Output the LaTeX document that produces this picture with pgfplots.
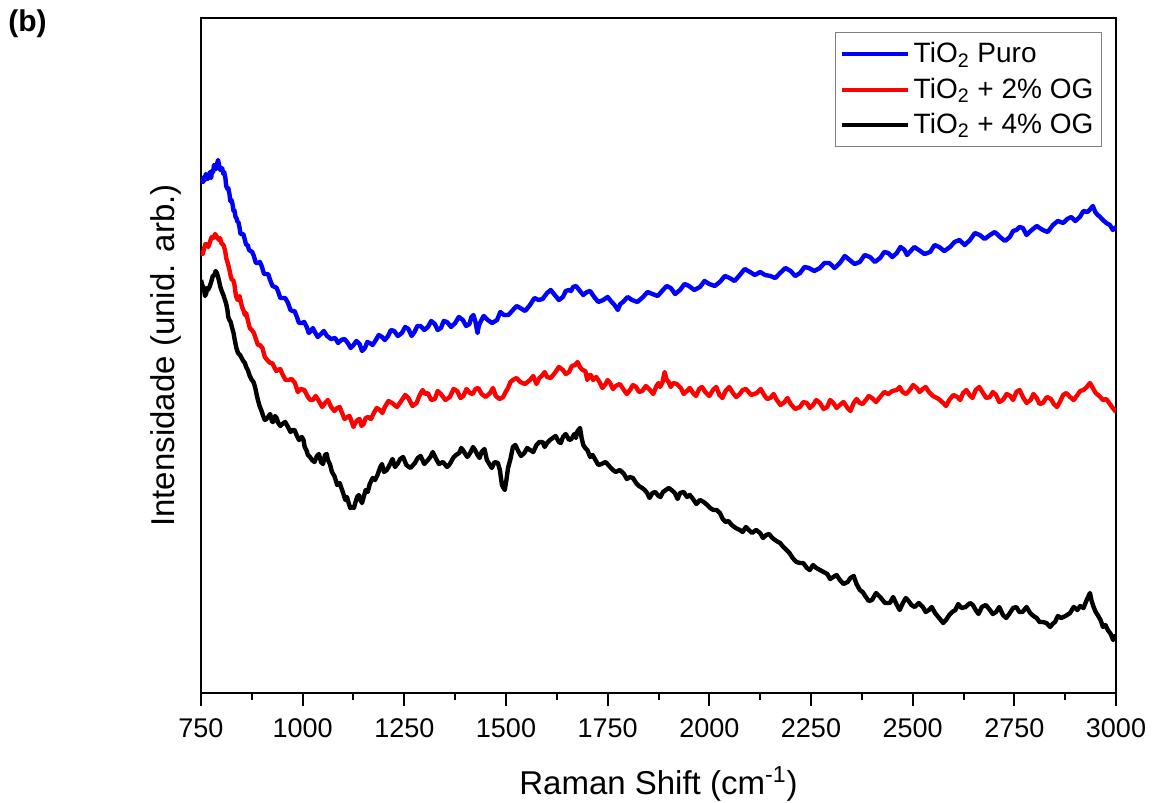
\documentclass[border=0pt]{standalone}
\usepackage{fontspec}
\setmainfont{Liberation Sans}
\usepackage{pgfplots}
\usepackage{pgfplotstable}
\pgfplotsset{compat=1.18}

\pgfplotstableread{
w I
750 523
752 519
755 518
757 523
760 520
762 526
765 524
767 521
770 525
772 528
775 522
777 529
780 528
782 535
785 533
787 531
790 537
792 540
795 534
797 530
800 532
802 532
805 526
807 528
810 522
812 514
815 511
817 512
820 506
822 499
825 500
827 497
830 489
832 490
835 483
837 482
840 478
842 478
845 472
847 466
850 466
854 466
858 460
861 455
865 455
868 450
872 449
876 448
880 444
885 437
890 437
895 438
900 433
905 426
910 426
915 426
920 420
926 414
932 413
936 412
940 408
945 402
950 402
957 402
964 397
970 390
975 389
980 389
985 384
991 377
998 377
1004 378
1010 373
1015 367
1020 369
1025 372
1030 368
1037 363
1045 366
1052 369
1060 364
1070 361
1080 362
1087 357
1095 360
1103 361
1111 357
1118 352
1125 355
1132 359
1140 356
1146 349
1153 352
1159 358
1165 357
1172 355
1180 360
1187 365
1195 363
1202 360
1210 364
1217 370
1225 369
1234 364
1244 367
1252 373
1260 371
1268 364
1275 368
1282 374
1290 374
1299 370
1308 373
1316 379
1325 376
1332 370
1340 372
1347 379
1355 378
1365 373
1375 377
1384 383
1394 380
1402 374
1410 376
1415 383
1420 385
1425 378
1430 367
1433 374
1436 377
1445 384
1455 380
1466 377
1478 380
1486 388
1495 385
1506 385
1517 390
1526 394
1535 392
1547 389
1559 395
1570 402
1580 400
1590 401
1601 407
1610 410
1620 405
1630 400
1640 403
1647 409
1655 410
1660 409
1665 413
1672 414
1680 410
1690 405
1699 408
1707 409
1715 404
1727 398
1739 400
1750 403
1760 398
1767 395
1775 390
1781 396
1788 398
1799 403
1810 400
1823 398
1837 403
1848 408
1860 406
1873 404
1886 410
1895 414
1905 412
1916 406
1928 410
1939 416
1950 414
1963 410
1977 413
1988 419
2000 416
2013 414
2026 418
2038 424
2050 422
2062 419
2075 425
2087 431
2100 428
2112 425
2125 428
2137 425
2150 424
2162 422
2174 427
2187 432
2200 429
2211 424
2223 427
2234 433
2245 432
2258 429
2272 432
2283 437
2295 437
2308 432
2321 437
2333 444
2345 440
2357 436
2370 438
2382 445
2395 443
2407 438
2420 442
2430 448
2440 447
2450 443
2461 447
2470 453
2480 450
2486 445
2493 448
2504 453
2515 450
2529 446
2543 448
2554 455
2565 453
2578 449
2592 453
2603 458
2615 460
2628 455
2641 460
2653 467
2665 465
2677 461
2690 465
2702 468
2715 463
2727 459
2739 463
2747 469
2755 470
2763 473
2771 472
2780 465
2790 469
2805 474
2820 470
2832 468
2845 475
2857 479
2870 477
2880 481
2890 483
2900 479
2911 483
2920 489
2930 488
2937 491
2943 494
2949 488
2955 485
2961 483
2968 480
2976 477
2985 475
2992 470
3000 473
}\puro

\pgfplotstableread{
w I
750 447
754 446
758 452
761 456
765 455
768 453
772 458
776 463
780 462
785 466
789 463
792 461
795 460
797 462
800 457
805 455
809 450
812 442
815 438
817 435
820 430
823 424
826 420
829 420
832 416
836 404
840 400
842 400
845 404
848 398
851 393
855 389
858 385
861 387
865 380
870 372
875 370
880 367
885 361
890 355
895 355
901 352
907 343
913 340
920 337
925 337
930 333
935 329
939 330
945 331
950 326
958 320
965 320
973 321
981 317
988 308
995 311
1004 310
1013 303
1019 300
1025 300
1032 304
1040 299
1048 293
1055 297
1062 300
1070 293
1078 289
1085 292
1091 293
1097 287
1103 281
1110 283
1115 284
1120 279
1125 273
1129 277
1135 280
1140 281
1145 274
1150 276
1155 282
1161 283
1168 281
1175 287
1182 292
1190 290
1196 287
1202 293
1211 299
1220 297
1232 293
1244 300
1252 305
1260 302
1270 294
1280 297
1288 305
1295 310
1301 306
1308 307
1316 300
1325 301
1332 309
1340 306
1351 300
1362 303
1371 311
1380 309
1388 302
1395 304
1403 311
1411 307
1418 306
1425 311
1432 312
1440 306
1450 303
1461 307
1468 312
1475 304
1484 301
1493 303
1499 308
1505 312
1511 318
1517 320
1526 322
1535 318
1547 316
1559 320
1567 324
1575 316
1582 322
1590 325
1595 328
1601 323
1610 322
1620 327
1630 333
1640 330
1647 326
1655 328
1662 334
1670 335
1676 338
1682 333
1688 330
1695 329
1700 320
1705 325
1709 325
1714 320
1722 323
1730 318
1737 312
1745 316
1750 320
1756 317
1763 311
1770 314
1780 316
1790 310
1797 306
1805 310
1812 315
1820 313
1827 308
1835 309
1844 314
1854 310
1862 306
1870 314
1875 317
1879 313
1885 318
1890 328
1895 320
1900 318
1905 313
1911 317
1920 316
1930 312
1937 306
1945 309
1952 312
1960 307
1967 304
1975 311
1982 313
1990 308
2000 304
2009 310
2017 313
2025 305
2032 302
2040 309
2049 313
2058 307
2066 303
2075 306
2082 310
2090 311
2103 305
2117 307
2126 311
2135 305
2142 301
2150 302
2158 306
2166 300
2175 295
2185 298
2192 302
2200 296
2211 291
2223 293
2231 298
2240 297
2247 292
2255 295
2263 300
2272 297
2281 291
2290 293
2297 300
2305 297
2313 292
2321 295
2330 298
2340 292
2347 289
2355 297
2362 301
2370 297
2377 296
2385 300
2392 304
2400 302
2410 298
2420 303
2430 308
2440 306
2450 309
2461 310
2468 313
2475 308
2484 306
2493 310
2501 315
2510 312
2517 308
2525 311
2532 313
2540 308
2550 304
2560 302
2567 300
2575 297
2582 294
2590 300
2600 305
2610 303
2617 300
2624 307
2632 310
2640 305
2647 302
2655 310
2664 313
2673 307
2681 302
2690 303
2697 308
2705 305
2713 298
2722 300
2731 306
2740 304
2747 300
2755 308
2763 310
2771 303
2780 297
2790 300
2797 306
2805 302
2812 296
2820 297
2830 303
2840 301
2847 296
2855 293
2862 298
2870 305
2878 307
2887 303
2896 300
2905 305
2912 309
2920 310
2928 313
2936 317
2943 312
2950 307
2959 304
2968 300
2976 301
2985 296
2992 292
3000 288
}\dois

\pgfplotstableread{
w I
750 420
753 415
757 412
760 404
763 407
765 412
767 410
771 413
775 418
779 424
783 425
786 429
789 427
792 423
795 418
797 414
800 410
805 405
809 400
812 396
815 390
817 383
820 380
823 378
826 373
830 367
833 360
837 352
841 347
846 345
850 342
854 339
858 337
861 333
865 330
870 324
875 320
879 318
883 313
887 305
890 300
894 294
898 290
903 284
907 280
911 281
915 283
920 286
925 278
928 278
932 284
936 282
940 277
945 274
950 276
957 278
964 273
970 268
975 270
980 270
985 265
991 260
998 263
1002 260
1005 253
1009 250
1013 245
1018 243
1023 240
1029 238
1035 244
1040 246
1045 238
1050 236
1055 245
1059 246
1062 240
1067 236
1072 228
1078 224
1085 215
1091 217
1097 210
1101 205
1105 200
1109 203
1113 197
1117 192
1121 193
1126 192
1130 198
1134 203
1138 205
1142 200
1146 197
1150 203
1155 210
1160 208
1165 216
1172 222
1178 220
1184 225
1190 232
1195 236
1200 228
1207 230
1215 236
1221 241
1227 233
1233 236
1240 241
1247 243
1255 235
1265 232
1276 237
1283 242
1290 244
1299 236
1308 240
1314 243
1320 248
1327 242
1335 236
1345 238
1355 233
1362 236
1370 242
1377 245
1385 247
1390 252
1394 250
1400 246
1405 243
1412 247
1419 253
1424 250
1430 245
1435 242
1440 248
1447 251
1453 240
1459 236
1465 232
1472 238
1480 237
1485 230
1490 215
1494 212
1497 210
1501 220
1505 232
1511 241
1517 253
1523 255
1530 249
1537 244
1545 247
1552 252
1559 250
1567 248
1575 255
1582 258
1590 258
1595 253
1601 257
1608 260
1615 262
1622 264
1630 258
1635 257
1640 263
1647 266
1655 260
1661 261
1668 266
1672 262
1675 268
1678 270
1682 272
1686 262
1690 255
1695 252
1700 250
1703 247
1707 243
1713 245
1720 240
1727 235
1735 236
1745 238
1756 233
1763 230
1770 228
1780 230
1790 226
1797 221
1805 223
1812 222
1820 217
1827 214
1835 212
1841 210
1847 207
1853 202
1860 207
1867 208
1875 204
1880 203
1886 208
1893 210
1900 212
1907 210
1915 207
1922 201
1928 207
1937 208
1945 203
1952 205
1960 201
1968 196
1977 200
1986 198
1995 195
2002 192
2010 190
2018 190
2026 187
2033 181
2040 178
2047 179
2055 175
2065 172
2075 170
2082 168
2090 173
2097 170
2105 167
2115 170
2125 167
2132 162
2140 165
2147 166
2155 162
2165 159
2174 157
2182 153
2190 150
2197 147
2205 142
2214 138
2223 137
2231 137
2240 132
2247 130
2255 135
2263 132
2272 130
2281 128
2290 126
2297 121
2305 123
2313 125
2321 120
2330 116
2340 118
2347 122
2355 124
2362 116
2370 110
2377 108
2385 103
2392 99
2400 100
2410 107
2420 103
2432 97
2444 97
2452 103
2460 96
2468 90
2476 97
2483 102
2490 99
2497 95
2505 93
2515 97
2525 93
2532 88
2540 90
2547 93
2555 87
2565 82
2575 77
2582 80
2590 85
2597 88
2605 90
2612 96
2620 92
2630 93
2641 97
2648 95
2655 90
2662 86
2670 93
2680 95
2690 90
2697 86
2705 88
2713 93
2722 85
2730 82
2739 87
2747 92
2755 93
2762 88
2770 88
2780 93
2789 87
2797 84
2805 82
2812 78
2820 78
2829 77
2838 73
2844 76
2850 78
2857 84
2865 82
2876 84
2887 87
2896 93
2905 90
2912 94
2920 92
2928 100
2936 107
2940 99
2945 93
2950 88
2955 85
2962 80
2968 73
2974 75
2980 70
2987 66
2993 60
2997 64
3000 62
}\quatro

\begin{document}
\begin{tikzpicture}
\begin{axis}[
  scale only axis,
  width=457.5pt, height=337.5pt,
  xmin=750, xmax=3000,
  ymin=7, ymax=682,
  axis line style={line width=1pt, black},
  xtick={750,1000,...,3000},
  minor x tick num=1,
  xtick pos=left,
  tick align=outside,
  major tick length=6.5pt,
  minor tick length=3.5pt,
  every tick/.style={line width=1pt, black},
  ytick=\empty,
  /pgf/number format/assume math mode=true,
  /pgf/number format/set thousands separator={},
  xticklabel style={font=\fontsize{13.5}{16}\selectfont, anchor=base, yshift=-16pt},
  xlabel={Raman Shift (cm\textsuperscript{-1})},
  ylabel={Intensidade (unid. arb.)},
  label style={font=\fontsize{16.5}{20}\selectfont},
  xlabel style={at={(axis description cs:0.5,0)}, anchor=base, yshift=-51pt},
  ylabel style={at={(axis description cs:0,0.5)}, anchor=center, yshift=17.5pt},
  legend style={at={(axis description cs:1,1)}, anchor=north east, xshift=-7pt, yshift=-7pt,
    draw=gray, line width=0.6pt, font=\fontsize{14}{17}\selectfont,
    row sep=2pt, inner xsep=2pt, inner ysep=3pt},
  legend cell align=left,
  legend image code/.code={\draw[#1, line width=2pt] (0pt,0pt) -- (33pt,0pt);},
  every axis plot/.append style={line width=2.2pt, line join=round},
]
\addplot[color={rgb,255:red,0;green,0;blue,255}] table[x=w, y=I] {\puro};
\addlegendentry{TiO\textsubscript{2} Puro}
\addplot[color={rgb,255:red,255;green,0;blue,0}] table[x=w, y=I] {\dois};
\addlegendentry{TiO\textsubscript{2} + 2\% OG}
\addplot[black] table[x=w, y=I] {\quatro};
\addlegendentry{TiO\textsubscript{2} + 4\% OG}
\end{axis}
\node[anchor=north west, font=\fontsize{15}{17}\selectfont\bfseries, inner sep=0pt]
  at ([shift={(-96.5pt,4.5pt)}]current axis.north west) {(b)};
\pgfresetboundingbox
\path ([shift={(-100.5pt,-55pt)}]current axis.south west) rectangle ([shift={(18pt,9pt)}]current axis.north east);
\end{tikzpicture}
\end{document}
